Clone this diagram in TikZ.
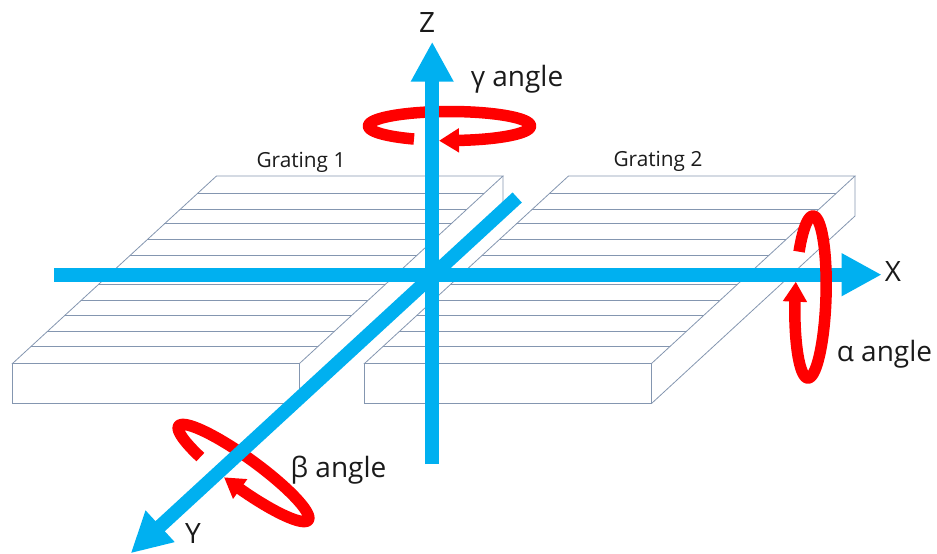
\documentclass[tikz,border=0pt]{standalone}
\usepackage{fontspec}
\setmainfont{Open Sans}
\usetikzlibrary{arrows.meta}
\definecolor{axisblue}{HTML}{00B0F0}
\definecolor{ringred}{HTML}{FF0000}
\definecolor{gratingline}{HTML}{8496B0}
\definecolor{labelink}{HTML}{1A1A1A}
\tikzset{
  gratingstroke/.style={draw=gratingline,line width=0.8pt,line join=miter},
  axisline/.style={draw=axisblue,line width=13.7pt,-{Triangle[length=40pt,width=40pt]}},
  ringline/.style={draw=ringred,line width=11.5pt,line join=round,-{Triangle[length=20pt,width=23pt]}},
  biglabel/.style={font=\fontsize{28}{30}\selectfont,text=labelink,inner sep=0pt},
  smalllabel/.style={font=\fontsize{20.8}{24}\selectfont,text=labelink,inner sep=0pt},
}
\newcommand{\gratingbox}{%
  \draw[gratingstroke] (12.5,363.5) -- (216.5,176) -- (503,176) -- (299.5,363.5) -- cycle;
  \draw[gratingstroke] (12.5,363.5) -- (12.5,403.5) -- (299.5,403.5) -- (299.5,363.5);
  \draw[gratingstroke] (503,176) -- (503,216) -- (299.5,403.5);
  \foreach \yy in {193.5,209,223.5,239.5,255,284.5,300.5,315.5,331.5,346.5}{
    \draw[gratingstroke] ({12.5+(363.5-\yy)*1.0853},\yy) -- ({299.5+(363.5-\yy)*1.0853},\yy);
  }
}
\begin{document}
\begin{tikzpicture}[x=1pt,y=-1pt]
\useasboundingbox (0,0) rectangle (937,554);
\gratingbox
\begin{scope}[xshift=352pt]
\gratingbox
\end{scope}
% named axis ends and ring arrow tips
\coordinate (zs) at (432.2,464);
\coordinate (ze) at (432.2,41.7);
\coordinate (xs) at (54,274.7);
\coordinate (xe) at (881.7,274.7);
\coordinate (ys) at (517.2,197.5);
\coordinate (ye) at (130.7,553.3);
\coordinate (gtip) at (439,140.7);
\coordinate (btip) at (224,477.3);
\coordinate (atip) at (795.8,281.7);
% gamma ring
\draw[ringline] plot[domain=116:444.2,samples=160,variable=\t] ({449.5+81*cos(\t)},{126+14.5*sin(\t)}) -- (gtip);
% beta ring
\draw[ringline] plot[domain=123.6:443.7,samples=160,variable=\t]
  ({243.5+80*cos(\t)*cos(36)-15*sin(\t)*sin(36)},{473+80*cos(\t)*sin(36)+15*sin(\t)*cos(36)}) -- (btip);
% axes
\draw[axisline] (zs) -- (ze);
\draw[axisline] (xs) -- (xe);
\draw[axisline] (ys) -- (ye);
% alpha ring
\draw[ringline] plot[domain=214:534.3,samples=160,variable=\t]
  ({810.5+15.5*cos(\t)-2.5*sin(\t)},{297+81*sin(\t)}) -- (atip);
% labels
\node[biglabel] (lz) at (427,23) {Z};
\node[biglabel] (lx) at (893,272) {X};
\node[biglabel] (ly) at (193,533) {Y};
\node[biglabel] (lg) at (517,79) {γ angle};
\node[biglabel] (la) at (884.5,354) {α angle};
\node[biglabel] (lb) at (338.5,470) {β angle};
\node[smalllabel] (g1) at (301,162) {Grating 1};
\node[smalllabel] (g2) at (658,161) {Grating 2};
\end{tikzpicture}
\end{document}
